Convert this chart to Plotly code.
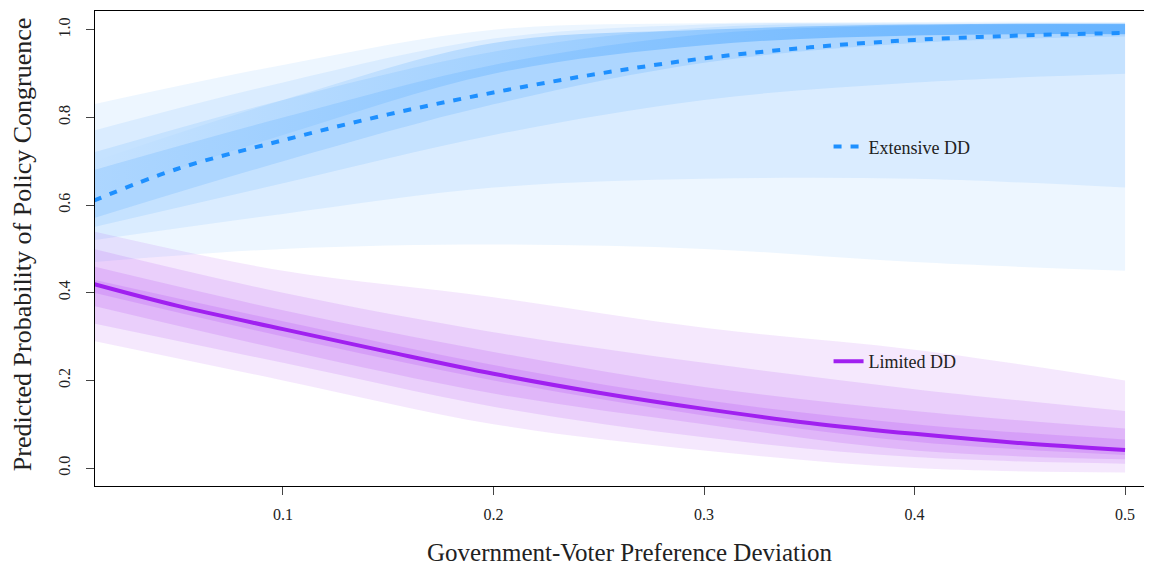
import plotly.graph_objects as go

# ---- data ----
x_mean = [0.01, 0.05, 0.10, 0.15, 0.20, 0.25, 0.30, 0.35, 0.40, 0.45, 0.50]
extensive_mean = [0.61, 0.683, 0.748, 0.807, 0.857, 0.90, 0.935, 0.96, 0.977, 0.987, 0.993]
limited_mean = [0.42, 0.37, 0.317, 0.265, 0.215, 0.172, 0.135, 0.103, 0.078, 0.057, 0.041]

# simulation spread: nested density envelopes (outer -> densest)
x_band = [0.01, 0.10, 0.20, 0.30, 0.40, 0.50]
ext_lo1 = [0.47, 0.50, 0.51, 0.50, 0.47, 0.45]
ext_hi1 = [0.83, 0.92, 1.00, 1.015, 1.018, 1.018]
ext_lo2 = [0.52, 0.58, 0.64, 0.66, 0.66, 0.64]
ext_hi2 = [0.77, 0.88, 0.98, 1.012, 1.015, 1.015]
ext_lo3 = [0.55, 0.65, 0.76, 0.84, 0.88, 0.90]
ext_hi3 = [0.72, 0.84, 0.95, 1.005, 1.013, 1.014]
ext_lo4 = [0.57, 0.70, 0.83, 0.925, 0.97, 0.985]
ext_hi4 = [0.68, 0.80, 0.92, 0.99, 1.01, 1.012]
ext_lo5 = [0.62, 0.76, 0.90, 0.965, 0.987, 0.99]
ext_hi5 = [0.70, 0.84, 0.97, 1.0, 1.012, 1.014]

lim_lo1 = [0.29, 0.20, 0.10, 0.04, 0.00, -0.01]
lim_hi1 = [0.54, 0.45, 0.39, 0.32, 0.27, 0.20]
lim_lo2 = [0.33, 0.24, 0.14, 0.07, 0.025, 0.01]
lim_hi2 = [0.50, 0.40, 0.31, 0.24, 0.18, 0.13]
lim_lo3 = [0.37, 0.27, 0.17, 0.10, 0.04, 0.02]
lim_hi3 = [0.46, 0.36, 0.265, 0.185, 0.13, 0.09]
lim_lo4 = [0.40, 0.30, 0.20, 0.12, 0.06, 0.03]
lim_hi4 = [0.43, 0.335, 0.235, 0.155, 0.10, 0.065]

x_ticks = [0.1, 0.2, 0.3, 0.4, 0.5]
y_ticks = [0.0, 0.2, 0.4, 0.6, 0.8, 1.0]

BLUE = "#1E90FF"
PURPLE = "#A020F0"
FONT = "Liberation Serif"
TXT = "#222"

fig = go.Figure()


def band(lo, hi, rgb, alpha, gradient=None):
    fig.add_trace(go.Scatter(x=x_band, y=lo, mode="lines", line=dict(width=0, shape="spline"),
                             showlegend=False, hoverinfo="skip"))
    kw = dict(fillcolor=f"rgba({rgb},{alpha})")
    if gradient is not None:
        kw = dict(fillgradient=dict(type="horizontal",
                                    colorscale=[[0, f"rgba({rgb},{gradient[0]})"],
                                                [1, f"rgba({rgb},{gradient[1]})"]]))
    fig.add_trace(go.Scatter(x=x_band, y=hi, mode="lines", line=dict(width=0, shape="spline"),
                             fill="tonexty", showlegend=False, hoverinfo="skip", **kw))


blue_rgb = "30,144,255"
purple_rgb = "160,32,240"
band(ext_lo1, ext_hi1, blue_rgb, 0.08)
band(ext_lo2, ext_hi2, blue_rgb, 0.09)
band(ext_lo3, ext_hi3, blue_rgb, 0.11)
band(ext_lo4, ext_hi4, blue_rgb, 0.14)
band(ext_lo5, ext_hi5, blue_rgb, 0.2, gradient=(0.0, 0.5))

band(lim_lo1, lim_hi1, purple_rgb, 0.10)
band(lim_lo2, lim_hi2, purple_rgb, 0.12)
band(lim_lo3, lim_hi3, purple_rgb, 0.14)
band(lim_lo4, lim_hi4, purple_rgb, 0.15)

fig.add_trace(go.Scatter(x=x_mean, y=extensive_mean, mode="lines", name="Extensive DD",
                         line=dict(color=BLUE, width=4, dash="8px,9px", shape="spline"),
                         legend="legend"))
fig.add_trace(go.Scatter(x=x_mean, y=limited_mean, mode="lines", name="Limited DD",
                         line=dict(color=PURPLE, width=4, shape="spline"),
                         legend="legend2"))

legend_common = dict(bgcolor="rgba(0,0,0,0)", borderwidth=0,
                     font=dict(family=FONT, size=18, color=TXT),
                     xanchor="left", yanchor="middle", itemwidth=30)

# the page places the figure 8px from the top-left corner; margins account for that
fig.update_layout(
    width=1144, height=559,
    margin=dict(l=87, r=0, t=3, b=81, autoexpand=False),
    paper_bgcolor="white", plot_bgcolor="white",
    font=dict(family=FONT, color=TXT),
    legend=dict(x=0.694, y=0.714, **legend_common),
    legend2=dict(x=0.694, y=0.262, **legend_common),
    xaxis=dict(range=[0.0107, 0.5128], tickvals=x_ticks, ticktext=[str(v) for v in x_ticks],
               showgrid=False, zeroline=False, showline=True, linecolor="black", linewidth=1.2,
               mirror=True, ticks="outside", ticklen=8, tickcolor="#444", tickwidth=1,
               ticklabelstandoff=6, automargin=False,
               tickfont=dict(family=FONT, size=16, color=TXT)),
    yaxis=dict(range=[-0.041, 1.043], tickvals=y_ticks, ticktext=[f"{v:.1f}" for v in y_ticks],
               showgrid=False, zeroline=False, showline=True, linecolor="black", linewidth=1.2,
               ticks="outside", ticklen=8, tickcolor="#444", tickwidth=1, tickangle=-90,
               ticklabelstandoff=10, automargin=False,
               tickfont=dict(family=FONT, size=16, color=TXT)),
    annotations=[
        dict(text="Government-Voter Preference Deviation", xref="paper", yref="paper",
             x=0.506, y=0, yshift=-66, xanchor="center", yanchor="middle", showarrow=False,
             borderpad=0, font=dict(family=FONT, size=25, color=TXT)),
        dict(text="Predicted Probability of Policy Congruence", xref="paper", yref="paper",
             x=0, y=0.507, xshift=-73, xanchor="center", yanchor="middle", showarrow=False,
             textangle=-90, font=dict(family=FONT, size=26, color=TXT)),
    ],
)

fig.write_html("out.html")
